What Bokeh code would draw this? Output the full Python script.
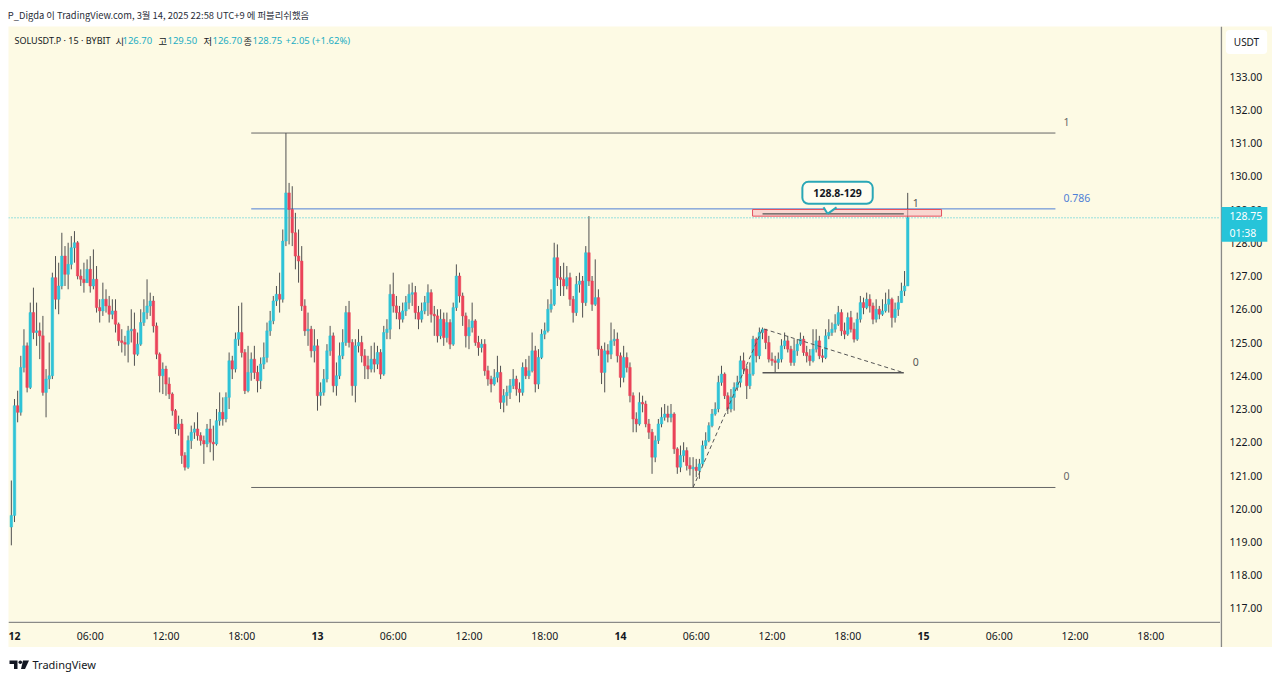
from bokeh.plotting import figure
from bokeh.models import Range1d, Label, ColumnDataSource, Span, Spacer
from bokeh.layouts import column, row
from bokeh.embed import file_html
from bokeh.resources import INLINE
from bokeh.core.properties import value

# ---------------- data (SOLUSDT.P, 15 min, BYBIT) ----------------
first_open = 119.45
start_hour = -0.25          # hours after 12 Mar 00:00 of the first candle
bar_hours = 0.25            # 15 minute candles

close = [
    119.80, 123.10, 122.90, 124.25, 124.90, 123.65, 125.90, 125.30, 125.35, 125.20,
    123.50, 123.90, 124.00, 126.95, 126.30, 126.70, 127.60, 127.05, 127.35, 127.85,
    128.00, 127.00, 126.90, 126.80, 127.20, 126.70, 126.90, 126.05, 125.95, 126.30,
    126.10, 125.85, 125.95, 125.55, 125.05, 125.00, 124.95, 125.35, 125.40, 124.65,
    124.95, 125.60, 125.90, 126.10, 126.25, 125.50, 124.65, 124.00, 124.20, 123.75,
    123.45, 122.95, 122.40, 122.55, 121.60, 121.25, 122.05, 122.30, 122.40, 122.20,
    122.05, 121.95, 122.40, 122.00, 121.95, 122.65, 122.90, 122.70, 123.35, 124.45,
    124.20, 125.10, 125.30, 124.70, 123.55, 124.10, 124.50, 124.10, 123.85, 124.35,
    124.55, 125.35, 125.65, 126.25, 126.45, 126.30, 128.05, 129.50, 129.00, 128.30,
    127.60, 127.45, 126.10, 125.35, 125.40, 124.75, 124.90, 123.40, 123.50, 123.90,
    124.75, 125.20, 123.70, 124.00, 124.60, 125.00, 125.90, 125.00, 123.70, 124.90,
    125.00, 124.60, 124.30, 124.20, 124.50, 124.35, 124.70, 124.05, 125.30, 125.40,
    126.45, 126.10, 125.90, 125.70, 125.95, 126.20, 126.45, 126.50, 125.90, 125.70,
    125.95, 126.20, 126.50, 125.85, 125.80, 125.20, 125.70, 125.15, 125.60, 124.95,
    126.05, 127.00, 126.40, 125.80, 125.20, 125.45, 125.65, 125.00, 124.85, 124.95,
    124.15, 123.90, 123.75, 123.95, 124.10, 123.20, 123.40, 123.50, 123.70, 123.90,
    123.60, 123.50, 124.25, 124.00, 124.15, 124.75, 123.75, 124.55, 125.25, 125.35,
    126.00, 126.15, 127.55, 126.95, 126.90, 126.70, 126.95, 126.30, 125.90, 126.75,
    126.85, 126.20, 127.70, 126.85, 126.15, 126.35, 124.80, 124.10, 124.75, 124.65,
    125.05, 125.10, 124.60, 123.95, 124.55, 124.25, 123.40, 122.70,
    122.55, 123.20, 123.15, 122.55, 122.30, 121.55, 122.05, 122.55, 122.75, 122.85,
    122.75, 122.85, 121.80, 121.25, 121.60, 121.75, 121.30, 121.20, 121.25, 121.15,
    121.35, 121.90, 122.05, 122.50, 122.85, 123.00, 123.80, 124.05, 123.40, 123.00,
    123.35, 123.65, 123.80, 124.45, 124.20, 123.70, 124.05, 125.10, 124.60, 125.30,
    125.40, 125.00, 124.50, 124.45, 124.40, 124.50, 124.90, 125.05,
    124.80, 124.40, 124.75, 124.95, 125.10, 124.70, 124.60, 124.45, 124.80, 125.05,
    124.60, 124.55, 125.20, 125.30, 125.40, 125.55, 125.90, 125.35, 125.25, 125.75,
    125.40, 125.10, 125.70, 126.20, 126.05, 126.30, 126.10, 125.70, 126.00, 125.85,
    125.95, 126.15, 126.30, 125.75, 126.00, 126.20, 126.55, 126.70, 128.75,
]
high = [
    120.85, 123.30, 123.55, 124.60, 125.40, 125.00, 126.20, 126.65, 126.20, 125.60,
    125.80, 124.20, 125.00, 127.10, 127.60, 127.40, 128.30, 127.90, 128.00, 128.20,
    128.35, 128.05, 127.20, 127.40, 127.50, 127.60, 127.80, 127.30, 126.30, 126.80,
    126.60, 126.40, 126.30, 126.30, 125.60, 125.40, 125.20, 125.50, 126.00, 125.90,
    125.30, 126.00, 126.30, 126.90, 126.50, 126.40, 125.60, 124.70, 124.40, 124.30,
    123.95, 123.50, 123.00, 122.80, 122.70, 121.70, 122.20, 122.50, 122.60, 122.90,
    122.30, 122.20, 122.55, 122.70, 122.50, 123.00, 123.50, 123.35, 123.50, 124.70,
    124.60, 125.30, 126.10, 126.20, 124.80, 124.90, 124.70, 124.90, 124.30, 124.55,
    125.00, 125.60, 125.95, 126.40, 126.70, 127.10, 128.40, 131.30, 129.80, 129.70,
    128.90, 128.40, 127.90, 126.30, 125.90, 125.50, 125.40, 125.10, 123.80, 124.20,
    124.95, 125.50, 125.30, 124.40, 125.00, 125.40, 126.10, 126.25, 125.10, 125.10,
    125.40, 125.20, 124.80, 124.60, 124.90, 125.00, 124.90, 124.80, 125.50, 125.70,
    126.75, 127.10, 126.40, 126.10, 126.20, 126.40, 126.75, 126.80, 126.70, 126.10,
    126.20, 126.40, 126.75, 126.60, 126.10, 126.00, 126.00, 125.90, 125.90, 125.70,
    126.20, 127.35, 127.10, 126.50, 125.90, 125.70, 126.20, 125.70, 125.20, 125.10,
    125.10, 124.30, 124.00, 124.20, 124.60, 124.30, 123.60, 123.70, 123.90, 124.20,
    124.00, 123.80, 124.40, 124.50, 124.60, 125.30, 124.90, 124.80, 125.40, 125.60,
    126.30, 126.60, 128.00, 127.95, 127.30, 127.40, 127.30, 127.10, 126.40, 127.00,
    127.10, 127.00, 127.90, 128.80, 127.00, 127.50, 126.60, 124.90, 125.00, 124.95,
    125.60, 125.40, 125.30, 124.70, 124.90, 124.70, 124.40, 123.50,
    122.90, 123.50, 123.40, 123.25, 122.70, 122.40, 122.20, 122.70, 123.05, 123.15,
    123.10, 123.15, 122.90, 121.85, 121.90, 122.00, 121.85, 121.55, 121.55, 121.50,
    121.50, 122.05, 122.30, 122.60, 123.00, 123.20, 124.00, 124.30, 124.10, 123.50,
    123.60, 123.80, 124.00, 124.60, 124.70, 124.30, 124.40, 125.20, 125.15, 125.45,
    125.45, 125.40, 125.20, 124.70, 124.60, 124.70, 125.10, 125.30,
    125.20, 124.90, 125.10, 125.10, 125.30, 125.20, 124.90, 124.80, 125.40, 125.40,
    125.20, 124.80, 125.40, 125.70, 125.60, 125.85, 126.10, 126.00, 125.60, 125.90,
    125.95, 125.60, 125.90, 126.40, 126.35, 126.50, 126.45, 126.20, 126.30, 126.10,
    126.30, 126.50, 126.60, 126.35, 126.20, 126.40, 126.80, 127.15, 129.50,
]
low = [
    118.90, 119.60, 122.60, 122.80, 124.10, 123.50, 123.60, 125.10, 124.90, 124.50,
    123.40, 122.75, 123.60, 123.90, 126.00, 125.85, 126.60, 126.70, 126.60, 127.20,
    127.40, 126.90, 126.70, 126.50, 126.80, 126.50, 126.60, 125.90, 125.60, 125.80,
    125.90, 125.60, 125.70, 125.30, 124.90, 124.70, 124.60, 124.40, 125.00, 124.30,
    124.60, 124.90, 125.50, 125.70, 125.80, 125.30, 124.50, 123.50, 123.45, 123.40,
    123.30, 122.80, 122.25, 122.20, 121.35, 121.15, 121.20, 121.80, 122.10, 122.05,
    121.90, 121.35, 121.85, 121.70, 121.45, 121.90, 122.50, 122.50, 122.60, 123.00,
    123.90, 124.10, 124.90, 124.55, 123.45, 123.50, 123.85, 123.90, 123.50, 123.60,
    124.20, 124.40, 125.20, 125.55, 126.10, 125.90, 126.20, 127.90, 127.95, 127.90,
    127.20, 126.80, 125.95, 125.20, 124.90, 124.55, 124.40, 122.95, 123.10, 123.40,
    123.80, 124.60, 123.50, 123.40, 123.90, 124.50, 124.90, 124.85, 123.40, 123.20,
    124.70, 124.40, 123.90, 123.90, 124.10, 124.10, 124.20, 123.90, 124.00, 125.10,
    125.10, 125.90, 125.70, 125.40, 125.60, 125.80, 126.00, 126.10, 125.70, 125.40,
    125.60, 125.85, 125.80, 125.60, 125.20, 125.00, 125.10, 124.90, 125.00, 124.80,
    124.90, 125.95, 126.20, 125.50, 124.85, 124.80, 125.30, 124.90, 124.60, 124.70,
    124.00, 123.70, 123.50, 123.70, 123.80, 123.00, 122.90, 123.10, 123.30, 123.60,
    123.40, 123.20, 123.40, 123.90, 123.90, 124.10, 123.50, 123.60, 124.50, 125.10,
    125.30, 125.90, 126.10, 126.70, 126.40, 126.40, 126.60, 126.10, 125.60, 125.80,
    126.50, 125.75, 126.10, 126.70, 125.95, 126.10, 124.60, 123.75, 123.50, 124.40,
    124.50, 124.90, 124.40, 123.65, 123.80, 124.10, 123.20, 122.30,
    122.30, 122.50, 122.90, 122.45, 122.10, 121.05, 121.40, 121.95, 122.45, 122.65,
    122.60, 122.60, 121.65, 121.05, 121.10, 121.40, 121.15, 121.00, 120.64, 120.95,
    120.90, 121.30, 121.80, 122.00, 122.45, 122.80, 122.90, 123.70, 123.30, 122.85,
    122.90, 122.95, 123.55, 123.65, 124.05, 123.30, 123.60, 124.00, 124.40, 124.50,
    125.10, 124.80, 124.40, 124.30, 124.09, 124.20, 124.40, 124.80,
    124.70, 124.30, 124.30, 124.60, 124.90, 124.60, 124.40, 124.30, 124.40, 124.70,
    124.50, 124.40, 124.50, 125.10, 125.20, 125.30, 125.50, 125.20, 125.10, 125.20,
    125.30, 125.00, 125.05, 125.60, 125.85, 126.00, 125.90, 125.55, 125.60, 125.70,
    125.80, 125.90, 125.90, 125.45, 125.60, 125.80, 126.20, 126.40, 126.70,
]

# main Fibonacci retracement (spike high -> session low)
fib_high = 131.30
fib_low = 120.64
fib_levels = [1.0, 0.786, 0.0]
fib_level_text = ["1", "0.786", "0"]
fib_t = [18.75, 82.45]

# trend-based extension drawn at the right
ext_a = (53.75, 120.64)
ext_b = (59.25, 125.42)
ext_c = (70.44, 124.09)
ext_levels = [1.0, 0.0]
ext_level_text = ["1", "0"]

# resistance zone + note
zone_t = [58.46, 73.43]
zone_price = [128.80, 129.00]
note_text = "128.8-129"
note_tip = (64.4, 128.87)

price_ticks = [117, 118, 119, 120, 121, 122, 123, 124, 125, 126, 127, 128, 129, 130, 131, 132, 133]
x_tick_hours = [0, 6, 12, 18, 24, 30, 36, 42, 48, 54, 60, 66, 72, 78, 84, 90]
x_tick_labels = ["12", "06:00", "12:00", "18:00", "13", "06:00", "12:00", "18:00",
                 "14", "06:00", "12:00", "18:00", "15", "06:00", "12:00", "18:00"]

header_text = "P_Digda 이 TradingView.com, 3월 14, 2025 22:58 UTC+9 에 퍼블리쉬했음"
symbol_text = "SOLUSDT.P · 15 · BYBIT"
ohlc_names = ["시", "고", "저", "종"]
countdown = "01:38"
currency = "USDT"

# ---------------- styling ----------------
BG = "#fdfae4"
UP = "#2fc3d7"
DOWN = "#ea4359"
WICK = "#505050"
VAL = "#22adc3"
TXT = "#131722"
AXIS = "#8a8a86"
FONT = "Noto Sans"
KFONT = "Noto Sans CJK KR"

n = len(close)
t = [start_hour + bar_hours * i for i in range(n)]
opens = [first_open] + close[:-1]
hi = [max(h, o, c) for h, o, c in zip(high, opens, close)]
lo = [min(l, o, c) for l, o, c in zip(low, opens, close)]
src = ColumnDataSource(dict(
    t=t, h=hi, l=lo,
    top=[max(o, c) for o, c in zip(opens, close)],
    bottom=[min(o, c) for o, c in zip(opens, close)],
    color=[UP if c >= o else DOWN for o, c in zip(opens, close)],
))

# plot frame geometry
X0, X1 = -0.4752, 95.525
Y0, Y1 = 116.609, 134.504
FW, FH = 1212, 595
AXB, AXR = 26, 52           # bottom / right axis strips
px_h = FW / (X1 - X0)
px_p = FH / (Y1 - Y0)


def strip(w, h, xr, yr, bg):
    f = figure(width=w, height=h, x_range=xr, y_range=yr, output_backend="svg",
               toolbar_location=None, x_axis_location=None, y_axis_location=None,
               min_border=0, background_fill_color=bg, border_fill_color=bg,
               outline_line_color=None)
    f.grid.visible = False
    return f


# ---------------- main price pane ----------------
p = strip(FW, FH, Range1d(X0, X1), Range1d(Y0, Y1), BG)

p.add_layout(Span(location=close[-1], dimension="width", line_color=UP, line_dash="1 2", line_width=1))

fib_prices = [fib_low + lv * (fib_high - fib_low) for lv in fib_levels]
fib_colors = ["#666666", "#4f7fd6", "#666666"]
for pr, txt, col in zip(fib_prices, fib_level_text, fib_colors):
    p.segment(x0=[fib_t[0]], x1=[fib_t[1]], y0=[pr], y1=[pr], line_color=col, line_width=1)
    p.add_layout(Label(x=fib_t[1], y=pr, x_offset=8, y_offset=11, text=txt, text_font=FONT,
                       text_font_size="10.5px", text_color=col, text_align="left", text_baseline="middle"))

p.segment(x0="t", y0="h", x1="t", y1="l", line_color=WICK, line_width=1, source=src)
p.vbar(x="t", width=0.2, top="top", bottom="bottom", fill_color="color", line_color="color",
       line_width=0.5, source=src)

p.quad(left=[zone_t[0]], right=[zone_t[1]], bottom=[zone_price[0]], top=[zone_price[1]],
       fill_color="#f5b8bf", fill_alpha=0.55, line_color="#e3505f", line_width=1)

ext_prices = [ext_c[1] + lv * (ext_b[1] - ext_a[1]) for lv in ext_levels]
p.segment(x0=[ext_b[0]] * 2, x1=[ext_c[0]] * 2, y0=ext_prices, y1=ext_prices,
          line_color="#555555", line_width=1.3)
p.line(x=[ext_a[0], ext_b[0], ext_c[0]], y=[ext_a[1], ext_b[1], ext_c[1]],
       line_color="#555555", line_dash="4 3", line_width=1)
for pr, txt in zip(ext_prices, ext_level_text):
    p.add_layout(Label(x=ext_c[0], y=pr, x_offset=9, y_offset=11, text=txt, text_font=FONT,
                       text_font_size="10.5px", text_color="#555555", text_align="left",
                       text_baseline="middle"))

NOTE_BG = "#fffdf0"
NOTE_BORDER = "#2aa7b6"
p.add_layout(Label(x=note_tip[0], y=note_tip[1], x_offset=10, y_offset=21, text=note_text,
                   text_font=FONT, text_font_size="10.5px", text_font_style="bold", text_color=TXT,
                   text_align="center", text_baseline="middle",
                   background_fill_color=NOTE_BG, border_line_color=NOTE_BORDER, border_line_width=2,
                   border_radius=6, padding=dict(left=11, right=11, top=7, bottom=7)))
tx, ty = note_tip
ptr_x = [tx - 4 / px_h, tx + 9 / px_h, tx]
ptr_y = [ty + 7.5 / px_p, ty + 7.5 / px_p, ty]
r1 = p.patch(x=ptr_x, y=ptr_y, fill_color=NOTE_BG, line_color=None)
r2 = p.multi_line(xs=[[ptr_x[0], ptr_x[2]], [ptr_x[1], ptr_x[2]]],
                  ys=[[ptr_y[0] - 1 / px_p, ptr_y[2]], [ptr_y[1] - 1 / px_p, ptr_y[2]]],
                  line_color=NOTE_BORDER, line_width=2)
r1.level = "overlay"
r2.level = "overlay"

# legend row
o_l, h_l, l_l, c_l = opens[-1], hi[-1], lo[-1], close[-1]
chg = c_l - o_l
legend_items = [
    (6, symbol_text, TXT, FONT, "9px"),
    (107, ohlc_names[0], TXT, KFONT, "9.3px"), (114, f"{o_l:.2f}", VAL, FONT, "9.5px"),
    (150, ohlc_names[1], TXT, KFONT, "9.3px"), (159, f"{h_l:.2f}", VAL, FONT, "9.5px"),
    (195, ohlc_names[2], TXT, KFONT, "9.3px"), (204, f"{l_l:.2f}", VAL, FONT, "9.5px"),
    (235, ohlc_names[3], TXT, KFONT, "9.3px"), (244, f"{c_l:.2f}", VAL, FONT, "9.5px"),
    (277, f"{chg:+.2f} ({chg / o_l * 100:+.2f}%)", VAL, FONT, "9.5px"),
]
for xo, txt, col, fnt, fs in legend_items:
    p.add_layout(Label(x=X0, y=Y1, x_offset=xo, y_offset=-14, text=txt, text_font=fnt,
                       text_font_size=fs, text_color=col, text_align="left", text_baseline="middle"))

# ---------------- bottom time axis strip ----------------
bot = strip(FW, AXB, Range1d(X0, X1), Range1d(AXB, 0), BG)
bot.add_layout(Span(location=0.8, dimension="width", line_color=AXIS, line_width=1.6))
hour_x = [h for h, s in zip(x_tick_hours, x_tick_labels) if ":" in s]
hour_s = [s for s in x_tick_labels if ":" in s]
day_x = [h for h, s in zip(x_tick_hours, x_tick_labels) if ":" not in s]
day_s = [s for s in x_tick_labels if ":" not in s]
bot.text(x=hour_x, y=[14] * len(hour_x), text=hour_s, text_font=value(FONT), text_font_size="10.5px",
         text_color=TXT, text_align="center", text_baseline="middle")
bot.text(x=day_x, y=[14] * len(day_x), text=day_s, text_font=value(FONT), text_font_size="10.5px",
         text_font_style="bold", text_color=TXT, text_align="center", text_baseline="middle")

# ---------------- right price axis strip ----------------
YB = Y0 - AXB / px_p
rgt = strip(AXR, FH + AXB, Range1d(0, AXR), Range1d(YB, Y1), BG)
rgt.add_layout(Span(location=0.8, dimension="height", line_color=AXIS, line_width=1.6))
rgt.text(x=[9] * len(price_ticks), y=price_ticks, text=[f"{v:.2f}" for v in price_ticks],
         text_font=value(FONT), text_font_size="10.5px", text_color=TXT,
         text_align="left", text_baseline="middle")
rgt.add_layout(Label(x=26, y=Y1, y_offset=-15.5, text=currency, text_font=FONT,
                     text_font_size="10px", text_color=TXT, text_align="center", text_baseline="middle",
                     background_fill_color="white", border_radius=4,
                     padding=dict(left=8, right=8, top=5, bottom=5)))
rgt.add_layout(Label(x=1, y=close[-1], y_offset=-6.5, text=f"{close[-1]:.2f}\n{countdown}",
                     text_font=FONT, text_font_size="10.5px", text_color="white", text_align="left",
                     text_baseline="middle", background_fill_color="#26c4d9",
                     padding=dict(left=8, right=5, top=2, bottom=2)))

# ---------------- header / footer strips ----------------
hdr = strip(1280, 26, Range1d(0, 1280), Range1d(26, 0), "white")
hdr.text(x=[7.3], y=[14.3], text=[header_text], text_font=value(KFONT), text_font_size="9.4px",
         text_color="#2a2e39", text_baseline="middle", text_align="left")

ftr = strip(1280, 30, Range1d(0, 1280), Range1d(30, 0), "white")
ftr.patch(x=[9, 17, 17, 13.5, 13.5, 9], y=[13, 13, 21.5, 21.5, 16.5, 16.5], fill_color=TXT, line_color=None)
ftr.scatter(x=[19.8], y=[14.8], size=3.6, fill_color=TXT, line_color=None)
ftr.patch(x=[22.5, 28.5, 24.5, 20.5], y=[13, 13, 21.5, 21.5], fill_color=TXT, line_color=None)
ftr.text(x=[32], y=[17], text=["TradingView"], text_font=value(FONT), text_font_size="11px",
         text_color=TXT, text_baseline="middle", text_align="left")

mid = row(Spacer(width=8, height=FH + AXB), column(p, bot, spacing=0), rgt,
          Spacer(width=8, height=FH + AXB), spacing=0)
layout = column(hdr, mid, ftr, spacing=0)
open("out.html", "w").write(file_html(layout, INLINE))
